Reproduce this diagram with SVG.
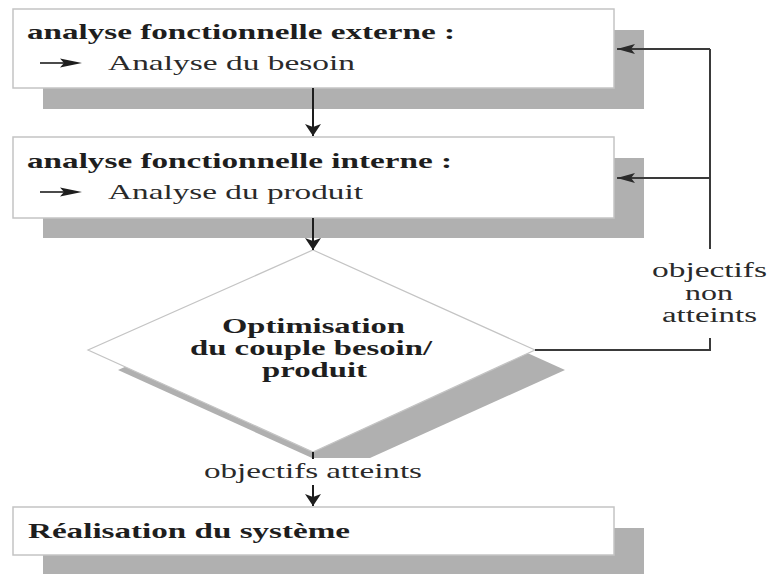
<svg xmlns="http://www.w3.org/2000/svg" width="767" height="574" viewBox="0 0 767 574">
  <style>
    .shadow { fill: #b0b0b0; }
    .box { fill: #ffffff; stroke: #c4c4c4; stroke-width: 1.5; }
    .head { font-family: "Liberation Serif", "Times New Roman", serif; font-size: 22px; font-weight: bold; fill: #1e1e1e; }
    .body { font-family: "Liberation Serif", "Times New Roman", serif; font-size: 22px; fill: #2a2a2a; }
    .small { font-size: 20px; }
    .flow { stroke: #1e1e1e; stroke-width: 2; fill: none; }
    .loop { stroke: #3a3a3a; stroke-width: 2; fill: none; }
  </style>
  <defs>
    <marker id="headV" markerUnits="userSpaceOnUse" viewBox="0 0 12 16" refX="12" refY="8" markerWidth="12" markerHeight="16" orient="auto">
      <path d="M0,0 L12,8 L0,16 L3,8 Z" fill="#1e1e1e"/>
    </marker>
    <marker id="headH" markerUnits="userSpaceOnUse" viewBox="0 0 18 10" refX="18" refY="5" markerWidth="18" markerHeight="10" orient="auto">
      <path d="M0,0 L18,5 L0,10 L4,5 Z" fill="#2a2a2a"/>
    </marker>
  </defs>

  <rect width="767" height="574" fill="#ffffff"/>

  <!-- external functional analysis -->
  <g id="node-externe">
    <rect class="shadow" x="43" y="30" width="601" height="79"/>
    <rect class="box" x="13" y="9" width="601" height="79"/>
    <text class="head" x="27" y="39" textLength="428" lengthAdjust="spacingAndGlyphs">analyse fonctionnelle externe :</text>
    <line x1="40" y1="63" x2="64" y2="63" stroke="#1e1e1e" stroke-width="1.6"/>
    <polygon points="60,58.5 82,63 60,67.5 64,63" fill="#1e1e1e"/>
    <text class="body" x="108" y="70" textLength="247" lengthAdjust="spacingAndGlyphs">Analyse du besoin</text>
  </g>

  <!-- internal functional analysis -->
  <g id="node-interne">
    <rect class="shadow" x="43" y="158" width="601" height="80"/>
    <rect class="box" x="13" y="137" width="601" height="81"/>
    <text class="head" x="27" y="168" textLength="425" lengthAdjust="spacingAndGlyphs">analyse fonctionnelle interne :</text>
    <line x1="40" y1="192" x2="64" y2="192" stroke="#1e1e1e" stroke-width="1.6"/>
    <polygon points="60,187.5 82,192 60,196.5 64,192" fill="#1e1e1e"/>
    <text class="body" x="108" y="199" textLength="255" lengthAdjust="spacingAndGlyphs">Analyse du produit</text>
  </g>

  <!-- decision diamond -->
  <g id="node-optimisation">
    <polygon class="shadow" points="118,370 343,270 565,370 370,458 312,458"/>
    <polygon points="313,250 535,350 313,452 88,350" fill="#ffffff" stroke="#c4c4c4" stroke-width="1.2"/>
    <text class="head small" x="222" y="333" textLength="183" lengthAdjust="spacingAndGlyphs">Optimisation</text>
    <text class="head small" x="190" y="355" textLength="242" lengthAdjust="spacingAndGlyphs">du couple besoin/</text>
    <text class="head small" x="262" y="377" textLength="105" lengthAdjust="spacingAndGlyphs">produit</text>
  </g>

  <!-- final step -->
  <g id="node-realisation">
    <rect class="shadow" x="43" y="528" width="601" height="46"/>
    <rect class="box" x="13" y="507" width="601" height="48"/>
    <text class="head" x="28" y="538" textLength="322" lengthAdjust="spacingAndGlyphs">Réalisation du système</text>
  </g>

  <!-- connectors -->
  <g id="connectors">
    <line class="flow" x1="313" y1="88" x2="313" y2="136" marker-end="url(#headV)"/>
    <line class="flow" x1="313" y1="218" x2="313" y2="250" marker-end="url(#headV)"/>
    <line class="flow" x1="313" y1="452" x2="313" y2="459"/>
    <line class="flow" x1="313" y1="485" x2="313" y2="506" marker-end="url(#headV)"/>
    <polyline class="loop" points="535,350 710,350 710,338"/>
    <line class="loop" x1="710" y1="249" x2="710" y2="49"/>
    <line class="loop" x1="710" y1="49" x2="617" y2="49" marker-end="url(#headH)"/>
    <line class="loop" x1="710" y1="178" x2="617" y2="178" marker-end="url(#headH)"/>
    <text class="body small" x="652" y="277" textLength="115" lengthAdjust="spacingAndGlyphs">objectifs</text>
    <text class="body small" x="685" y="300" textLength="48" lengthAdjust="spacingAndGlyphs">non</text>
    <text class="body small" x="662" y="322" textLength="95" lengthAdjust="spacingAndGlyphs">atteints</text>
    <text class="body" x="204" y="478" textLength="218" lengthAdjust="spacingAndGlyphs">objectifs atteints</text>
  </g>
</svg>
